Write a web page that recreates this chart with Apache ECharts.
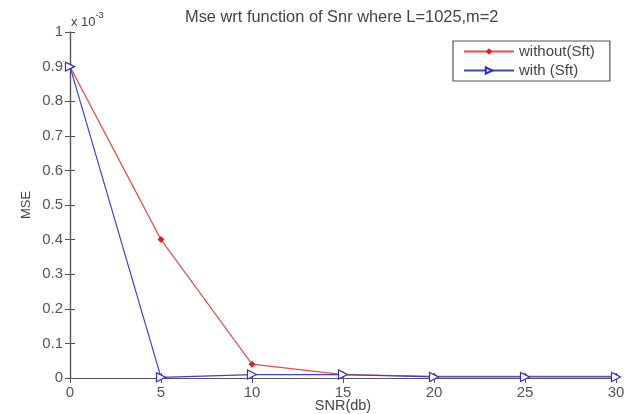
<!DOCTYPE html>
<html>
<head>
<meta charset="utf-8">
<script src="https://cdn.jsdelivr.net/npm/echarts@6/dist/echarts.min.js"></script>
<style>html,body{margin:0;padding:0;background:#fff}#c{width:628px;height:414px}</style>
</head>
<body>
<div id="c"></div>
<script>
var snr = [0, 5, 10, 15, 20, 25, 30];
var withoutSft = [0.9, 0.4, 0.04, 0.01, 0.005, 0.005, 0.005];
var withSft = [0.9, 0.002, 0.01, 0.01, 0.003, 0.003, 0.003];
var yTicks = [0, 0.1, 0.2, 0.3, 0.4, 0.5, 0.6, 0.7, 0.8, 0.9, 1];
var xTicks = [0, 5, 10, 15, 20, 25, 30];

var chart = echarts.init(document.getElementById('c'), null, {renderer: 'canvas'});
var font = 'Liberation Sans, Arial, sans-serif';
var axisCommon = {
  axisLine: {show: true, lineStyle: {color: '#555', width: 1.2}},
  axisTick: {show: true, inside: true, length: 5, lineStyle: {color: '#555'}},
  splitLine: {show: false}
};
function pairs(xs, ys) { return xs.map(function (x, i) { return [x, ys[i]]; }); }

chart.setOption({
  animation: false,
  textStyle: {fontFamily: font},
  grid: {left: 70, right: 12, top: 32, bottom: 36, containLabel: false, outerBoundsMode: 'none'},
  legend: {
    left: 453, top: 41, orient: 'vertical',
    itemWidth: 50, itemHeight: 8, itemGap: 4,
    borderColor: '#555', borderWidth: 1.2, padding: [3, 15, 3, 10],
    textStyle: {fontSize: 15, color: '#444', fontFamily: font},
    data: ['without(Sft)', 'with (Sft)']
  },
  xAxis: [
    Object.assign({type: 'value', min: 0, max: 30, interval: 5,
      axisLabel: {fontSize: 15, color: '#555', margin: 7},
      name: 'SNR(db)', nameLocation: 'middle', nameGap: 20, nameMoveOverlap: false,
      nameTextStyle: {fontSize: 14.5, color: '#444'}}, axisCommon),
    Object.assign({type: 'value', min: 0, max: 30, interval: 5, position: 'top',
      axisLabel: {show: false}}, axisCommon)
  ],
  yAxis: [
    Object.assign({type: 'value', min: 0, max: 1, interval: 0.1,
      axisLabel: {fontSize: 15, color: '#555', margin: 7,
        formatter: function (v) { return (Math.round(v * 10) / 10).toString(); }},
      name: 'MSE', nameLocation: 'middle', nameGap: 37, nameMoveOverlap: false,
      nameTextStyle: {fontSize: 13, color: '#444'}}, axisCommon),
    Object.assign({type: 'value', min: 0, max: 1, interval: 0.1, position: 'right',
      axisLabel: {show: false}}, axisCommon)
  ],
  series: [
    {
      name: 'without(Sft)', type: 'line', data: pairs(snr, withoutSft),
      symbol: 'diamond', symbolSize: 7,
      lineStyle: {color: '#e05050', width: 1.2},
      itemStyle: {color: '#e02020'}
    },
    {
      name: 'with (Sft)', type: 'line', data: pairs(snr, withSft),
      symbol: 'triangle', symbolSize: 9, symbolRotate: -90,
      lineStyle: {color: '#4040c8', width: 1.2},
      itemStyle: {color: '#ffffff', borderColor: '#3030c0', borderWidth: 1.2}
    }
  ],
  graphic: [
    {type: 'text', left: 185, top: 9, style: {
      text: 'Mse wrt function of Snr where L=1025,m=2',
      font: '16.4px ' + font, fill: '#444'}},
    {type: 'text', left: 71, top: 11, style: {
      text: '{a|x 10}{b|-3}',
      rich: {a: {font: '13px ' + font, fill: '#444', verticalAlign: 'bottom'},
             b: {font: '9px ' + font, fill: '#444', verticalAlign: 'top', padding: [0, 0, 9, 0]}}}}
  ]
});
</script>
</body>
</html>
